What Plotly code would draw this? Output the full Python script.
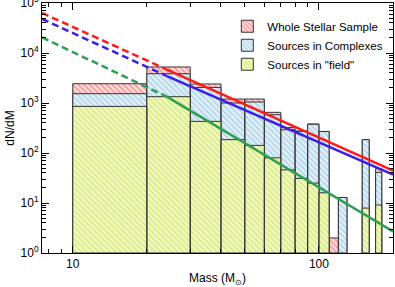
import plotly.graph_objects as go

# Histogram bins (solar masses)
bin_lo = [10, 20, 30, 40, 50, 60, 70, 80, 90, 100, 110, 120, 150, 170]
bin_hi = [20, 30, 40, 50, 60, 70, 80, 90, 100, 110, 120, 130, 160, 180]

# dN/dM values per bin
whole = [2430, 5250, 2400, 1200, 1200, 650, 325, 275, 380, 270, 2.0, 12.9, 185, 48.5]
complexes = [1535, 3855, 2050, 1000, 1047, 583, 292, 270, 375, 268, 0, 12.9, 185, 41]
field = [855, 1337, 429, 185, 142, 80, 46, 31, 25, 16, 0, 0, 7.9, 9.1]

# Power-law fits (dashed = extrapolation, solid = fitted range)
fit_mass_dashed = [7.5, 24]
fit_mass_solid = [24, 200]
whole_fit_dashed = [63100, 4720]
whole_fit_solid = [4720, 44.3]
complex_fit_dashed = [47900, 3500]
complex_fit_solid = [3500, 36.8]
field_fit_dashed = [20500, 1355]
field_fit_solid = [1355, 2.7]

names = ["Whole Stellar Sample", "Sources in Complexes", 'Sources in "field"']
y_tickvals = [1, 10, 100, 1e3, 1e4, 1e5]
y_ticktext = ["10<sup>0</sup>", "10<sup>1</sup>", "10<sup>2</sup>", "10<sup>3</sup>",
              "10<sup>4</sup>", "10<sup>5</sup>"]
x_tickvals = [10, 100]
x_ticktext = ["10", "100"]

FONT = "Liberation Sans, Arial, Helvetica, sans-serif"


def rects(lo, hi, vals, base=1):
    xs, ys = [], []
    for a, b, v in zip(lo, hi, vals):
        if v <= 0:
            continue
        xs += [a, a, b, b, a, None]
        ys += [base, v, v, base, base, None]
    return xs, ys


fig = go.Figure()

styles = [
    ("#ffe0e0", "#f05050"),
    ("#e6f2fa", "#7cb6da"),
    ("#f2f9c8", "#c2dc38"),
]
for name, vals, (bg, fg) in zip(names, [whole, complexes, field], styles):
    xs, ys = rects(bin_lo, bin_hi, vals)
    fig.add_trace(go.Scatter(
        x=xs, y=ys, mode="lines", fill="toself", name=name, showlegend=False,
        fillcolor=bg,
        fillpattern=dict(shape="\\", bgcolor=bg, fgcolor=fg, size=4, solidity=0.45),
        line=dict(color="#333333", width=1),
        hoverinfo="skip",
    ))
    # legend swatch (square, like the original key)
    fig.add_trace(go.Bar(
        x=[None], y=[None], name=name, showlegend=True,
        marker=dict(color=bg,
                    pattern=dict(shape="\\", bgcolor=bg, fgcolor=fg, size=4, solidity=0.45),
                    line=dict(color="#333333", width=1)),
        hoverinfo="skip",
    ))

line_colors = ["#ff1a1a", "#3a1ee6", "#2e9e50"]
for col, yd, ys in zip(line_colors,
                       [whole_fit_dashed, complex_fit_dashed, field_fit_dashed],
                       [whole_fit_solid, complex_fit_solid, field_fit_solid]):
    fig.add_trace(go.Scatter(x=fit_mass_dashed, y=yd, mode="lines", showlegend=False,
                             line=dict(color=col, width=2.5, dash="7px,4px")))
    fig.add_trace(go.Scatter(x=fit_mass_solid, y=ys, mode="lines", showlegend=False,
                             line=dict(color=col, width=2.5)))

y_minor = [m * 10 ** k for k in range(0, 5) for m in range(2, 10)]
x_minor = [8, 9, 20, 30, 40, 50, 60, 70, 80, 90, 200]

fig.update_layout(
    width=395, height=287,
    margin=dict(l=42, r=2, t=3, b=34),
    paper_bgcolor="white", plot_bgcolor="white",
    font=dict(family=FONT, size=12, color="black"),
    showlegend=True,
    legend=dict(x=0.528, y=0.965, xanchor="left", yanchor="top",
                bgcolor="rgba(0,0,0,0)", font=dict(size=11.5),
                tracegroupgap=0, itemwidth=30),
    xaxis=dict(type="log", range=[0.875, 2.301],
               tickvals=x_tickvals, ticktext=x_ticktext, tickfont=dict(size=12),
               ticks="inside", ticklen=7, tickcolor="black",
               minor=dict(tickvals=x_minor, ticks="inside", ticklen=4, tickcolor="black"),
               showline=True, linecolor="black", linewidth=1, mirror="allticks",
               showgrid=False, zeroline=False, automargin=False,
               ticklabeloverflow="allow",
               title=dict(text="Mass (M<sub>⊙</sub>)", standoff=5, font=dict(size=12))),
    yaxis=dict(type="log", range=[0, 5],
               tickvals=y_tickvals, ticktext=y_ticktext, tickfont=dict(size=12),
               ticks="inside", ticklen=7, tickcolor="black",
               minor=dict(tickvals=y_minor, ticks="inside", ticklen=4, tickcolor="black"),
               showline=True, linecolor="black", linewidth=1, mirror="allticks",
               showgrid=False, zeroline=False, automargin=False,
               ticklabeloverflow="allow",
               title=dict(text="dN/dM", standoff=3, font=dict(size=12))),
)

fig.write_html(
    "out.html",
    config={"displayModeBar": False},
    post_script="document.body.style.margin='0';document.body.style.padding='0';",
)
